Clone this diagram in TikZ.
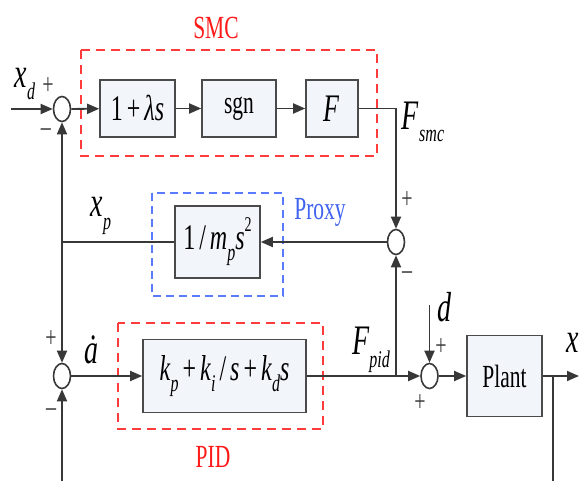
\documentclass[tikz,border=0pt]{standalone}
\usepackage{fontspec}
\setmainfont{Liberation Serif}
\usepackage{graphicx}
\usetikzlibrary{arrows.meta,shapes.geometric}
\definecolor{ln}{HTML}{383838}
\definecolor{bd}{HTML}{4A4A4A}
\definecolor{bf}{HTML}{F2F6FB}
\definecolor{rd}{HTML}{FF3B3B}
\definecolor{rdt}{HTML}{FF1A1A}
\definecolor{bl}{HTML}{5B7BFF}
\definecolor{blt}{HTML}{3F62F0}
\newcommand{\vs}[1]{\scalebox{1}[1.5]{#1}}
\newcommand{\mi}[1]{\textit{#1}}
\newcommand{\lo}[1]{\raisebox{-0.3em}{\fontsize{16}{16}\selectfont\itshape #1}}
\newcommand{\hi}[1]{\raisebox{0.5em}{\fontsize{14}{14}\selectfont #1}}
\tikzset{
  blk/.style={draw=bd, fill=bf, line width=1.6pt, inner sep=0pt, font=\fontsize{24}{24}\selectfont},
  sum/.style={ellipse, draw=ln, fill=white, line width=1.6pt, minimum width=17pt, minimum height=25pt, inner sep=0pt},
  wire/.style={draw=ln, line width=1.8pt},
  arr/.style={wire, -{Triangle[length=12pt,width=10pt]}},
  lab/.style={inner sep=0pt, font=\fontsize{21.5}{21.5}\selectfont},
  mlab/.style={inner sep=0pt, font=\fontsize{28}{28}\selectfont},
  pm/.style={inner sep=0pt, font=\fontsize{20}{20}\selectfont, text=ln},
  rbox/.style={draw=rd, line width=1.7pt, dash pattern=on 9pt off 6pt},
  bbox/.style={draw=bl, line width=1.7pt, dash pattern=on 8pt off 5pt}
}
\begin{document}
\begin{tikzpicture}[x=1pt,y=-1pt]
\useasboundingbox (0,0) rectangle (579,481);
% dashed frames
\draw[rbox] (81,50) rectangle (377,156);
\draw[bbox] (152,193) rectangle (283,296);
\draw[rbox] (118,323) rectangle (323,429);
% nodes
\node[sum] (s1) at (62,109) {};
\node[blk, minimum width=75pt, minimum height=57pt] (b1) at (137.5,108.5) {\vs{1\,+\,\mi{λs}}};
\node[blk, minimum width=74pt, minimum height=57pt, font=\fontsize{21.5}{21.5}\selectfont] (b2) at (239,108.5) {\vs{sgn}};
\node[blk, minimum width=52pt, minimum height=57pt, font=\fontsize{26}{26}\selectfont] (b3) at (332,108.5) {\vs{\mi{F}}};
\node[sum] (s2) at (396,242) {};
\node[blk, minimum width=85pt, minimum height=72pt] (b4) at (217.5,242) {\vs{1\,/\,\mi{m}\lo{p}\mi{s}\hi{2}}};
\node[sum] (s3) at (62,376) {};
\node[blk, minimum width=163pt, minimum height=73pt] (b5) at (224.5,376) {\vs{\mi{k}\lo{p}\,+\,\mi{k}\lo{i}\,/\,\mi{s}\,+\,\mi{k}\lo{d}\mi{s}}};
\node[sum] (s4) at (429.5,376) {};
\node[blk, minimum width=75pt, minimum height=81pt, font=\fontsize{21.5}{21.5}\selectfont] (pl) at (504.5,376) {\vs{Plant}};
% coordinates
\coordinate (in) at (11,109);
\coordinate (c1) at (396,108.5);
\coordinate (jp) at (62,242);
\coordinate (bot1) at (62,481);
\coordinate (jf) at (396,376);
\coordinate (dt) at (429.5,305);
\coordinate (jo) at (553,376);
\coordinate (out) at (579,376);
\coordinate (bot2) at (553,481);
% wires
\draw[arr] (in) -- (s1);
\draw[arr] (s1) -- (b1);
\draw[arr] (b1) -- (b2);
\draw[arr] (b2) -- (b3);
\draw[wire] (b3) -- (c1);
\draw[arr] (c1) -- (s2);
\draw[arr] (s2) -- (b4);
\draw[wire] (b4) -- (jp);
\draw[arr] (jp) -- (s1);
\draw[arr] (jp) -- (s3);
\draw[arr] (bot1) -- (s3);
\draw[arr] (s3) -- (b5);
\draw[arr] (b5) -- (s4);
\draw[arr] (jf) -- (s2);
\draw[arr] (dt) -- (s4);
\draw[arr] (s4) -- (pl);
\draw[arr] (pl) -- (out);
\draw[wire] (jo) -- (bot2);
% labels
\node[lab, text=rdt] (lsmc) at (216,28) {\vs{SMC}};
\node[lab, text=blt] (lprox) at (320,212) {\vs{Proxy}};
\node[lab, text=rdt] (lpid) at (213,457) {\vs{PID}};
\node[mlab] (lxd) at (25,84) {\vs{\mi{x}\lo{d}}};
\node[mlab] (lfs) at (423,122) {\vs{\mi{F}\lo{smc}}};
\node[mlab] (lxp) at (101,216) {\vs{\mi{x}\lo{p}}};
\node[mlab] (la) at (91,350) {\vs{\mi{\.{a}}}};
\node[mlab] (lfp) at (371,350) {\vs{\mi{F}\lo{pid}}};
\node[mlab] (ld) at (445,307) {\vs{\mi{d}}};
\node[mlab, anchor=west] (lx) at (566,343) {\vs{\mi{x}}};
\node[pm] (p1) at (48,86) {\vs{+}};
\node[pm] (m1) at (46,133) {\vs{–}};
\node[pm] (p2) at (407,200) {\vs{+}};
\node[pm] (m2) at (407,276) {\vs{–}};
\node[pm] (p3) at (51,339) {\vs{+}};
\node[pm] (m3) at (51,413) {\vs{–}};
\node[pm] (p4) at (441,347) {\vs{+}};
\node[pm] (p5) at (420,403) {\vs{+}};
\end{tikzpicture}
\end{document}
